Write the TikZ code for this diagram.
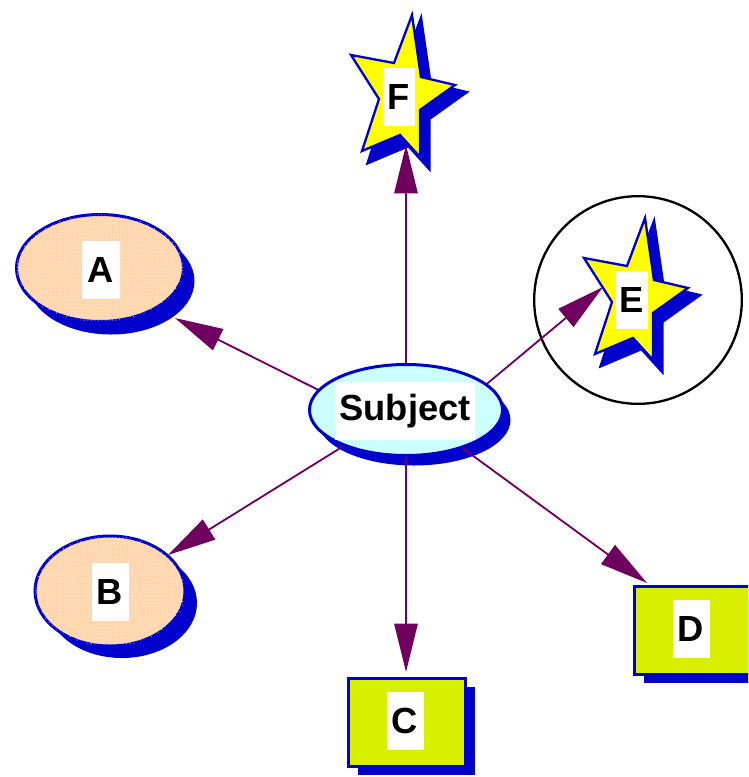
\documentclass[tikz,border=0pt]{standalone}
\usepackage{fontspec}
\setmainfont{Liberation Sans}
\usepackage{tikz}
\usetikzlibrary{shapes.geometric, shadows, arrows.meta, patterns}
\definecolor{shblue}{RGB}{0, 0, 204}
\definecolor{arrowc}{RGB}{112, 0, 96}
\definecolor{peach}{RGB}{255, 218, 178}
\definecolor{peachdot}{RGB}{255, 196, 158}
\definecolor{icecyan}{RGB}{204, 255, 255}
\definecolor{lime}{RGB}{216, 240, 0}
\definecolor{staryel}{RGB}{255, 255, 0}
\newcommand{\drawstar}[2]{
  \begin{scope}[shift={(#1, #2)}]
    \fill[shblue, shift={(8, 8)}, scale=1.12]    (13, -82) -- (22, -20) -- (56, -12) -- (21, 13) 
                                              -- (21, 60) -- (1, 38) -- (-37, 54) -- (-20, 2) 
                                              -- (-48, -42) -- (-5, -34) -- cycle;
    \filldraw[fill=staryel, draw=shblue, line width=0.07cm]    (13, -82) -- (22, -20) -- (56, -12) -- (21, 13) 
                                                              -- (21, 60) -- (1, 38) -- (-37, 54) -- (-20, 2) 
                                                              -- (-48, -42) -- (-5, -34) -- cycle;
  \end{scope}
}

\begin{document}
\begin{tikzpicture}[x=0.03cm, y=-0.03cm,
    bubble/.style={ellipse, draw=shblue, line width=0.09cm},
    sqbox/.style={rectangle, draw=shblue, fill=lime, line width=0.09cm,
                  minimum width=3.51cm, minimum height=2.64cm,
                  drop shadow={shadow xshift=0.27cm, shadow yshift=-0.27cm, fill=shblue, opacity=1}},
    dotted fill/.style={fill=peach, postaction={pattern=dots, pattern color=peachdot}},
    lbl/.style={fill=white, font=\bfseries\fontsize{31}{31}\selectfont,
                minimum width=1.11cm, minimum height=1.74cm, inner sep=0.08cm},
    conn/.style={arrowc, line width=0.055cm, -{Triangle[length=1.45cm, width=0.7cm]}}]

  \path[use as bounding box] (0, 0) rectangle (748, 777);
  \clip (0, 0) rectangle (748, 777);

  % stars and the ring round E
  \drawstar{399}{97}
  \drawstar{632}{300}
  \node[circle, draw, line width=0.07cm, minimum size=6.23cm] (ering) at (638, 300) {};

  % bubbles and boxes
  \node[bubble, fill=icecyan, minimum width=5.79cm, minimum height=2.73cm,
        drop shadow={shadow xshift=0.24cm, shadow yshift=-0.3cm, fill=shblue, opacity=1}] (subj) at (406, 410) {};
  \node[bubble, dotted fill, minimum width=5.01cm, minimum height=3.21cm,
        drop shadow={shadow xshift=0.33cm, shadow yshift=-0.39cm, fill=shblue, opacity=1}] (a) at (100, 268) {};
  \node[bubble, dotted fill, minimum width=4.5cm, minimum height=3.3cm,
        drop shadow={shadow xshift=0.36cm, shadow yshift=-0.36cm, fill=shblue, opacity=1}] (b) at (110, 591) {};
  \node[sqbox] (c) at (407, 722) {};
  \node[sqbox] (d) at (693, 630) {};

  \coordinate (Atip) at (175, 318);
  \coordinate (Btip) at (168, 555);
  \coordinate (Ctip) at (406, 672);
  \coordinate (Dtip) at (647, 583);
  \coordinate (Etip) at (603, 287);
  \coordinate (Ftip) at (406, 145);

  \foreach \ang/\tip in {167/Atip, 210/Btip, 270/Ctip, 326/Dtip, 18/Etip, 90/Ftip} {
    \draw[conn] (subj.\ang) -- (\tip);
  }

  % labels
  \node[lbl, minimum width=4.2cm] (subjtxt) at (405, 411) {Subject};
  \node[lbl] (atxt) at (101, 270) {A};
  \node[lbl] (btxt) at (110, 592) {B};
  \node[lbl] (ctxt) at (405, 721) {C};
  \node[lbl] (dtxt) at (691, 629) {D};
  \node[lbl, minimum width=0.96cm] (etxt) at (632, 300) {E};
  \node[lbl, minimum width=0.96cm] (ftxt) at (399, 97) {F};

\end{tikzpicture}
\end{document}
